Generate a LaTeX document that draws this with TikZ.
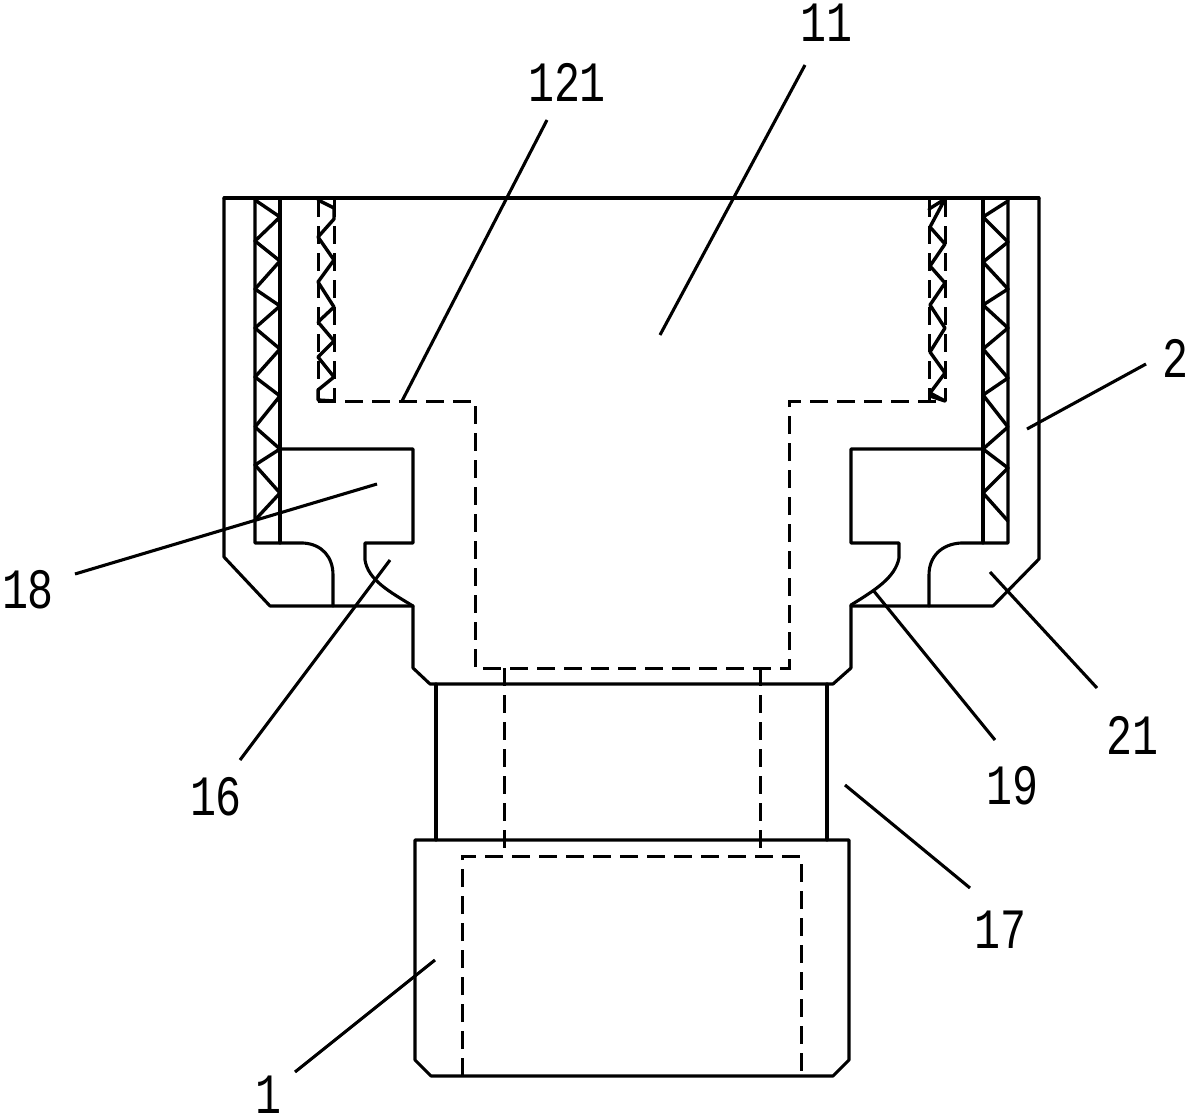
\documentclass[tikz,border=0pt]{standalone}
\usepackage{fontspec}
\setmainfont{Liberation Mono}
\tikzset{
  part/.style={line width=3.1pt,line cap=round,line join=round,black},
  hid/.style={line width=3pt,black,dash pattern=on 18pt off 9pt},
  zig/.style={line width=3.4pt,line join=round,line cap=round,black},
  lead/.style={line width=3.1pt,black},
  lab/.style={font=\fontsize{57}{57}\selectfont,inner sep=0pt,xscale=0.76,black}
}
\begin{document}
\begin{tikzpicture}[x=1pt,y=-1pt]
\useasboundingbox (0,0) rectangle (1200,1116);
% top line and outer walls
\draw[part] (224,198) -- (1039,198);
\draw[part] (224,198) -- (224,557) -- (270,606) -- (413,606);
\draw[part] (1039,198) -- (1039,559) -- (993,606) -- (851,606);
% grooves
\draw[part] (255,198) -- (255,543) -- (303,543) .. controls (322,544) and (333,557) .. (333,575) -- (333,606);
\draw[part] (280,198) -- (280,543);
\draw[part] (1008,198) -- (1008,543) -- (961,543) .. controls (942,544) and (929,556) .. (929,575) -- (929,606);
\draw[part] (983,198) -- (983,543);
% hook profile
\draw[part] (280,449) -- (413,449) -- (413,543) -- (365,543) -- (365,560) .. controls (368,580) and (390,592) .. (413,606) -- (413,668) -- (430,684) -- (833,684) -- (851,668) -- (851,605) .. controls (875,590) and (895,578) .. (899,558) -- (899,543) -- (851,543) -- (851,449) -- (983,449);
% neck and base
\draw[part] (436,684) -- (436,840);
\draw[part] (827,684) -- (827,840);
\draw[part] (415,840) -- (849,840) -- (849,1060) -- (833,1076) -- (431,1076) -- (415,1060) -- cycle;
% large zigzags
\draw[zig] (255,200) -- (280,217) -- (255,241) -- (280,261) -- (255,289) -- (280,306) -- (255,328) -- (280,349) -- (255,377) -- (280,396) -- (255,427) -- (280,449) -- (255,465) -- (280,493) -- (255,520);
\draw[zig] (1008,201) -- (983,217) -- (1008,242) -- (983,262) -- (1008,289) -- (983,305) -- (1008,328) -- (983,349) -- (1008,378) -- (983,395) -- (1008,427) -- (983,449) -- (1008,468) -- (983,493) -- (1008,521);
% small zigzags
\draw[zig] (318,200) -- (334,208) -- (334,219) -- (318,237) -- (334,260) -- (318,282) -- (334,307) -- (318,322) -- (334,341) -- (318,357) -- (334,377) -- (318,390) -- (318,400) -- (334,401);
\draw[zig] (929,209) -- (945,199) -- (930,227) -- (945,244) -- (930,266) -- (945,283) -- (930,305) -- (945,328) -- (930,352) -- (945,373) -- (930,393) -- (945,401) -- (930,396);
% hidden lines
\draw[hid] (318,199) -- (318,401);
\draw[hid] (334,199) -- (334,401);
\draw[hid] (929,199) -- (929,401);
\draw[hid] (945,199) -- (945,401);
\draw[hid] (318,401) -- (475,401) -- (475,668) -- (789,668) -- (789,401) -- (945,401);
\draw[hid] (504,668) -- (504,856);
\draw[hid] (760,668) -- (760,856);
\draw[hid] (462,1076) -- (462,856) -- (801,856) -- (801,1076);
% labels
\node[lab] (n11) at (826,23) {11};
\node[lab] (n121) at (567,82) {121};
\node[lab] (n2) at (1175,358) {2};
\node[lab] (n18) at (28,590) {18};
\node[lab] (n16) at (216,797) {16};
\node[lab] (n19) at (1012,786) {19};
\node[lab] (n21) at (1132,735) {21};
\node[lab] (n17) at (1000,930) {17};
\node[lab] (n1) at (268,1095) {1};
% leader ends
\coordinate (a11) at (805,65);   \coordinate (b11) at (660,335);
\coordinate (a121) at (547,120); \coordinate (b121) at (402,401);
\coordinate (a2) at (1146,364);  \coordinate (b2) at (1027,429);
\coordinate (a18) at (75,574);   \coordinate (b18) at (377,484);
\coordinate (a16) at (240,760);  \coordinate (b16) at (390,560);
\coordinate (a19) at (995,740);  \coordinate (b19) at (873,590);
\coordinate (a21) at (1097,688); \coordinate (b21) at (990,572);
\coordinate (a17) at (970,888);  \coordinate (b17) at (845,785);
\coordinate (a1) at (295,1072);  \coordinate (b1) at (435,960);
\foreach \k in {11,121,2,18,16,19,21,17,1} \draw[lead] (a\k) -- (b\k);
\end{tikzpicture}
\end{document}
